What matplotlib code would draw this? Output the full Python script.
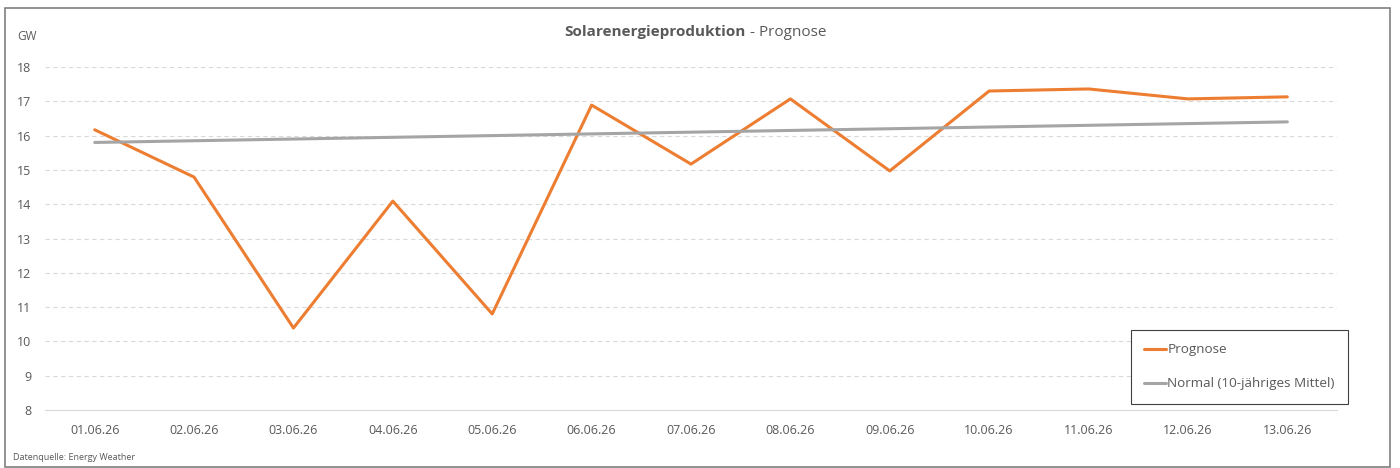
import matplotlib.pyplot as plt
from matplotlib.patches import Rectangle

plt.rcParams['font.family'] = ['Open Sans', 'DejaVu Sans']

dates = ['01.06.26', '02.06.26', '03.06.26', '04.06.26', '05.06.26', '06.06.26', '07.06.26',
         '08.06.26', '09.06.26', '10.06.26', '11.06.26', '12.06.26', '13.06.26']
prognose = [16.17, 14.79, 10.39, 14.09, 10.80, 16.89, 15.17, 17.07, 14.97, 17.30, 17.36, 17.07, 17.13]
normal = [15.80, 15.85, 15.90, 15.95, 16.00, 16.05, 16.10, 16.15, 16.20, 16.25, 16.30, 16.35, 16.40]

txt = '#595959'

fig = plt.figure(figsize=(14, 4.68), dpi=100)
# Rahmen um das ganze Diagramm
fig.patches.append(Rectangle((5 / 1400, 0.002), 1385 / 1400, 1 - 8 / 468 - 0.002,
                             transform=fig.transFigure, fill=False, edgecolor='#7f7f7f', lw=1.2))

ax = fig.add_axes([45 / 1400, 1 - 410 / 468, 1292 / 1400, 343 / 468])
x = range(len(dates))
ax.plot(x, prognose, color='#ED7D31', lw=2.2, label='Prognose', solid_capstyle='round')
ax.plot(x, normal, color='#A5A5A5', lw=2.2, label='Normal (10-jähriges Mittel)', solid_capstyle='round')

ax.set_xlim(-0.5, len(dates) - 0.5)
ax.set_ylim(8, 18)
ax.set_yticks(range(8, 19))
ax.set_xticks(list(x))
ax.set_xticklabels(dates)
ax.tick_params(length=0, labelsize=9, colors=txt, pad=10)
for s in ['top', 'right', 'left']:
    ax.spines[s].set_visible(False)
ax.spines['bottom'].set_color('#D9D9D9')
ax.yaxis.grid(True, color='#D9D9D9', ls=(0, (4, 3)), lw=0.8)
ax.set_axisbelow(True)

fig.text(746 / 1400, 1 - 32 / 468, 'Solarenergieproduktion', ha='right', va='center',
         fontsize=11, fontweight='bold', color=txt)
fig.text(746 / 1400, 1 - 32 / 468, ' - Prognose', ha='left', va='center', fontsize=11, color=txt)

fig.text(17 / 1400, 1 - 37 / 468, 'GW', ha='left', va='center', fontsize=8.5, color=txt)
fig.text(13 / 1400, 1 - 457 / 468, 'Datenquelle: Energy Weather', ha='left', va='center',
         fontsize=6.5, color=txt)

leg = fig.legend(loc='upper left', bbox_to_anchor=(1131 / 1400, 1 - 330 / 468), fancybox=False,
                 edgecolor='#404040', fontsize=9.7, handlelength=1.6, handletextpad=0.1,
                 labelspacing=1.55, borderpad=1.0, borderaxespad=0, framealpha=1)
leg.get_frame().set_linewidth(0.8)
for t in leg.get_texts():
    t.set_color(txt)

fig.savefig('out.png', dpi=100)
